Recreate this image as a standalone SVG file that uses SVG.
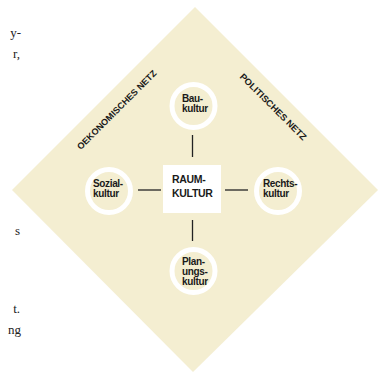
<svg xmlns="http://www.w3.org/2000/svg" width="384" height="372" viewBox="0 0 384 372">
<style>
.bg{fill:#ffffff}
.dia{fill:#f4eed1}
.ring{fill:#f4eed1;stroke:#ffffff;stroke-width:5}
.box{fill:#ffffff}
.lbl{font-family:"Liberation Sans",Arial,sans-serif;font-weight:bold;font-size:10px;letter-spacing:-0.35px;fill:#1a1a1a}
.big{font-family:"Liberation Sans",Arial,sans-serif;font-weight:bold;font-size:10.5px;letter-spacing:-0.3px;fill:#1a1a1a}
.net{font-family:"Liberation Sans",Arial,sans-serif;font-weight:bold;font-size:9px;fill:#1a1a1a}
.frag{font-family:"Liberation Serif","Times New Roman",serif;font-size:13px;fill:#222}
.con{stroke:#222;stroke-width:1.3;fill:none}
</style>
<rect class="bg" x="0" y="0" width="384" height="372"/>
<g id="fragments">
<text class="frag" x="21" y="37" text-anchor="end">y-</text>
<text class="frag" x="20" y="58" text-anchor="end">r,</text>
<text class="frag" x="20" y="235" text-anchor="end">s</text>
<text class="frag" x="20" y="313" text-anchor="end">t.</text>
<text class="frag" x="21" y="334" text-anchor="end">ng</text>
</g>
<g id="diamond">
<polygon class="dia" points="195,7 378,190 193,372 12,190"/>
</g>
<g id="labels-netz">
<text class="net" transform="translate(119,112) rotate(-45)" text-anchor="middle" textLength="108" lengthAdjust="spacingAndGlyphs">OEKONOMISCHES NETZ</text>
<text class="net" transform="translate(271,109) rotate(45)" text-anchor="middle" textLength="90" lengthAdjust="spacingAndGlyphs">POLITISCHES NETZ</text>
</g>
<g id="connectors">
<line class="con" x1="192.5" y1="135" x2="192.5" y2="157"/>
<line class="con" x1="192.5" y1="220" x2="192.5" y2="241"/>
<line class="con" x1="138" y1="190" x2="161" y2="190"/>
<line class="con" x1="225" y1="190" x2="248" y2="190"/>
</g>
<g id="raumkultur">
<rect class="box" x="163" y="165" width="58" height="48"/>
<text class="big" x="172" y="183">RAUM-</text>
<text class="big" x="172" y="197">KULTUR</text>
</g>
<g id="baukultur">
<circle class="ring" cx="193.5" cy="106" r="21.5"/>
<text class="lbl" x="182" y="102">Bau-</text>
<text class="lbl" x="182" y="112">kultur</text>
</g>
<g id="sozialkultur">
<circle class="ring" cx="109" cy="191" r="21.5"/>
<text class="lbl" x="93" y="187">Sozial-</text>
<text class="lbl" x="93" y="197">kultur</text>
</g>
<g id="rechtskultur">
<circle class="ring" cx="278" cy="191" r="21.5"/>
<text class="lbl" x="263" y="187">Rechts-</text>
<text class="lbl" x="263" y="197">kultur</text>
</g>
<g id="planungskultur">
<circle class="ring" cx="193.5" cy="271" r="21.5"/>
<text class="lbl" x="182" y="265">Plan-</text>
<text class="lbl" x="182" y="275">ungs-</text>
<text class="lbl" x="182" y="285">kultur</text>
</g>
</svg>
